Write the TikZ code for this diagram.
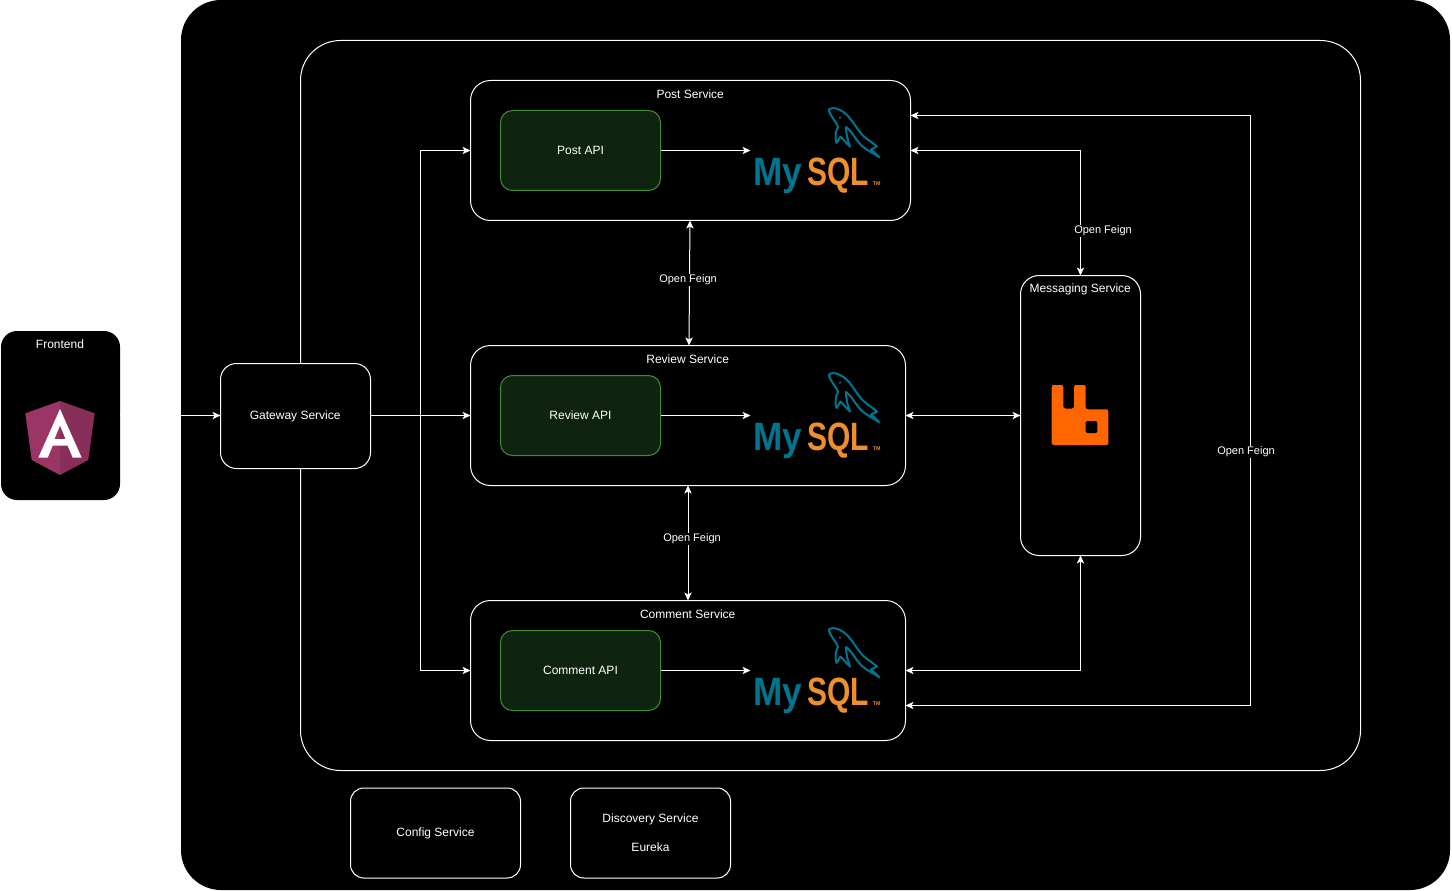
\documentclass[tikz,border=0pt]{standalone}
\usepackage{fontspec}
\setmainfont{Liberation Sans}
\usetikzlibrary{arrows.meta}
\definecolor{apifill}{HTML}{0F2410}
\definecolor{apiline}{HTML}{3F8F30}
\definecolor{mysqlteal}{HTML}{00758F}
\definecolor{mysqlorange}{HTML}{EC8F2C}
\definecolor{ngleft}{HTML}{9B3565}
\definecolor{ngright}{HTML}{872E5A}
\definecolor{rabbit}{HTML}{FF6600}
\tikzset{
  x=0.75pt,y=-0.75pt,
  wh/.style 2 args={minimum width=#1*0.75pt,minimum height=#2*0.75pt},
  box/.style={draw=white,fill=black,line width=0.75pt,inner sep=0pt,outer sep=0pt,text=white,font=\fontsize{9}{11}\selectfont,align=center},
  api/.style={box,draw=apiline,fill=apifill,rounded corners=9pt,wh={160}{80}},
  svc/.style={box,rounded corners=15pt},
  title/.style={text=white,inner sep=0pt,font=\fontsize{9}{11}\selectfont},
  feign/.style={fill=black,text=white,inner sep=1pt,font=\fontsize{8.25}{10}\selectfont},
  conn/.style={draw=white,line width=0.75pt,-{Stealth[length=6pt,width=5.5pt,inset=1.5pt]}},
  bothway/.style={draw=white,line width=0.75pt,{Stealth[length=6pt,width=5.5pt,inset=1.5pt]}-{Stealth[length=6pt,width=5.5pt,inset=1.5pt]}},
  mysqllogo/.pic={
    \draw[mysqlteal,line width=1.5pt,line join=round]
      (828.2,109.5) .. controls (829.5,107) and (835.5,107) .. (839.5,109.5)
      .. controls (849.5,114.5) and (853.5,124.5) .. (859.5,131.5)
      .. controls (863.5,137.5) and (871.5,141.5) .. (876.5,146)
      -- (870.5,149) .. controls (873.5,151.5) and (876.5,154.5) .. (879,157)
      .. controls (872.5,152.5) and (865.5,149.5) .. (860.5,144.5)
      .. controls (854.5,138.5) and (851.5,130.5) .. (845.5,126.5)
      .. controls (845.5,134.5) and (847.5,140.5) .. (849.5,146)
      .. controls (845.5,142.5) and (842.5,138.5) .. (840,136)
      .. controls (838.5,138.5) and (837.5,140.5) .. (836,142.5)
      .. controls (834.5,137.5) and (834.5,131.5) .. (837.5,126.5)
      .. controls (835.5,120.5) and (829.5,115.5) .. (828.2,109.5) -- cycle;
    \fill[mysqlteal] (839.5,117.2) circle (1.2);
    \node[anchor=base west,inner sep=0pt,text=mysqlteal,xscale=0.89,transform shape,font=\fontsize{29.6}{32}\selectfont\bfseries] (-my) at (752.5,185) {My};
    \node[anchor=base west,inner sep=0pt,text=mysqlorange,xscale=0.76,transform shape,font=\fontsize{29.6}{32}\selectfont\bfseries] (-sql) at (806.5,185) {SQL};
    \node[anchor=base west,inner sep=0pt,text=mysqlorange,font=\fontsize{4}{5}\selectfont\bfseries] (-tm) at (872,185) {TM};
  }
}
\begin{document}
\begin{tikzpicture}
\useasboundingbox (-0.5,-0.5) rectangle (1451.5,890.5);
\fill[white] (-0.5,-0.5) rectangle (1451.5,890.5);
% outer areas
\node[box,draw=none,rounded corners=30pt,wh={1269}{890}] (cloud) at (815,444.5) {};
\node[box,rounded corners=30pt,wh={1060}{730}] (cluster) at (830,405) {};
% frontend
\node[box,draw=none,rounded corners=12pt,wh={119}{169}] (frontend) at (60,415) {};
\node[title] (frontendT) at (59.5,344) {Frontend};
\fill[ngleft] (59.5,400.5) -- (24.8,412.8) -- (31.2,459.5) -- (59.5,474.5) -- cycle;
\fill[ngright] (59.5,400.5) -- (94.2,412.8) -- (87.8,459.5) -- (59.5,474.5) -- cycle;
\fill[white,even odd rule] (59.5,408.5) -- (37.8,457.2) -- (47.2,457.2) -- (52.2,445.2) -- (67.2,445.2) -- (72.2,457.2) -- (81.2,457.2) -- cycle
  (59.5,425) -- (54,438.5) -- (65,438.5) -- cycle;
% services
\node[svc,rounded corners=12pt,wh={150}{105}] (gateway) at (295,415.5) {};
\node[title] (gatewayT) at (294.7,415.5) {Gateway Service};
\node[svc,wh={440}{140}] (post) at (690,150) {};
\node[svc,wh={435}{140}] (review) at (687.5,415) {};
\node[svc,wh={435}{140}] (comment) at (687.5,670) {};
\node[svc,rounded corners=14pt,wh={120}{280}] (messaging) at (1080,415) {};
\node[svc,rounded corners=10pt,wh={170}{90}] (config) at (435,832.5) {Config Service};
\node[svc,rounded corners=10pt,wh={160}{90}] (discovery) at (650,832.5) {Discovery Service\\[10.5pt]Eureka};
\node[title] (postT) at (689.7,94) {Post Service};
\node[title] (reviewT) at (687.2,359) {Review Service};
\node[title] (commentT) at (687.2,614) {Comment Service};
\node[title] (messagingT) at (1079.7,289) {Messaging Service};
\node[api] (postapi) at (580,150) {Post API};
\node[api] (reviewapi) at (580,415) {Review API};
\node[api] (commentapi) at (580,670) {Comment API};
% logos
\pic (postdb) at (0,0) {mysqllogo};
\pic (reviewdb) at (0,265) {mysqllogo};
\pic (commentdb) at (0,520) {mysqllogo};
\fill[rabbit,rounded corners=1.5pt] (1051.2,384.5) -- (1062.8,384.5) -- (1062.8,408) -- (1073.5,408) -- (1073.5,384.5) -- (1085.2,384.5) -- (1085.2,408.8) -- (1107.8,408.8) -- (1107.8,444.5) -- (1051.2,444.5) -- cycle;
\fill[black,rounded corners=1.5pt] (1085.2,420.5) rectangle (1096.8,432.5);
% connector ends
\coordinate (bus) at (420,415);
\coordinate (postdbIn) at (750,150);
\coordinate (reviewdbIn) at (750,415);
\coordinate (commentdbIn) at (750,670);
\coordinate (postSide) at (910,115);
\coordinate (commentSide) at (905,705);
\coordinate (feignBus) at (1250,450);
% connectors
\draw[conn] (frontend.east) -- (gateway.west |- frontend.east);
\draw[conn] (gateway.east |- review.west) -- (review.west);
\draw[conn] (bus) |- (post.west);
\draw[conn] (bus) |- (comment.west);
\draw[conn] (postapi.east) -- (postdbIn);
\draw[conn] (reviewapi.east) -- (reviewdbIn);
\draw[conn] (commentapi.east) -- (commentdbIn);
\draw[bothway] ([xshift=-0.4pt]post.south) -- ([xshift=0.75pt]review.north);
\draw[bothway] (review.south) -- (comment.north);
\draw[bothway] (post.east) -| (messaging.north);
\draw[bothway] (review.east) -- (messaging.west);
\draw[bothway] (comment.east) -| (messaging.south);
\draw[bothway] (postSide) -| (feignBus) |- (commentSide);
% connector labels
\node[feign] (l1) at (687.5,279.5) {Open Feign};
\node[feign] (l2) at (691.5,538.5) {Open Feign};
\node[feign] (l3) at (1102.5,230.5) {Open Feign};
\node[feign] (l4) at (1245.5,451.5) {Open Feign};
\end{tikzpicture}
\end{document}
